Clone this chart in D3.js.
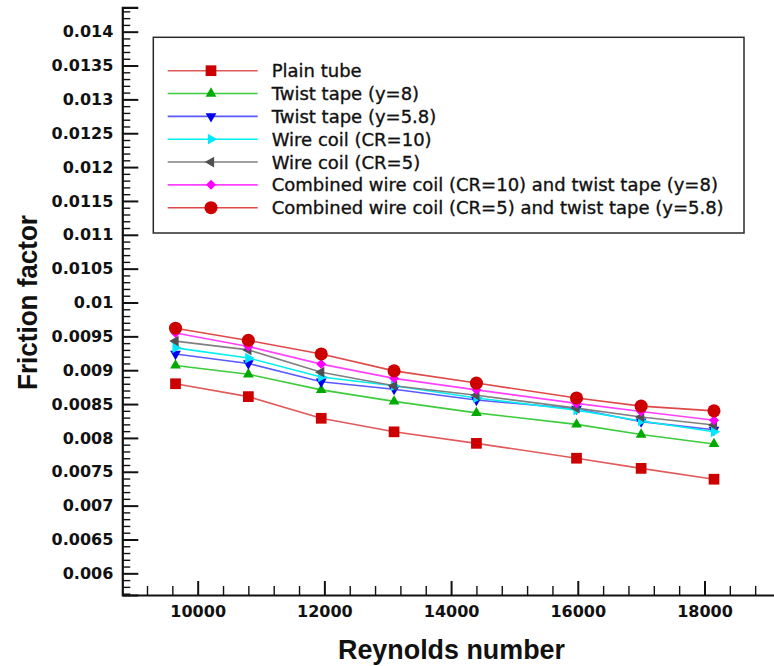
<!DOCTYPE html>
<html>
<head>
<meta charset="utf-8">
<script src="https://cdn.jsdelivr.net/npm/d3@7"></script>
<style>
  body { margin: 0; background: #fff; }
  svg { display: block; }
  .tick text { font-family: "DejaVu Sans"; font-weight: bold; font-size: 16px; fill: #111; }
  .legend text { font-family: "DejaVu Sans"; font-size: 18px; fill: #111; stroke: #111; stroke-width: 0.35px; }
  .title { font-family: "Liberation Sans"; font-weight: bold; fill: #111; }
</style>
</head>
<body>
<div class="chart"></div>
<script>
// Reynolds numbers of the measured points
const reynolds = [9650, 10800, 11950, 13100, 14400, 15980, 17000, 18150];

// friction factor for each configuration
const plainTube  = [0.00880, 0.00861, 0.00829, 0.00809, 0.00792, 0.00770, 0.00755, 0.00739];
const twist8     = [0.00907, 0.00894, 0.00871, 0.00854, 0.00837, 0.00820, 0.00805, 0.00791];
const twist58    = [0.00924, 0.00910, 0.00883, 0.00872, 0.00856, 0.00843, 0.00824, 0.00812];
const wire10     = [0.00933, 0.00918, 0.00890, 0.00877, 0.00859, 0.00841, 0.00825, 0.00809];
const wire5      = [0.00943, 0.00930, 0.00897, 0.00877, 0.00863, 0.00844, 0.00831, 0.00819];
const combined10 = [0.00955, 0.00935, 0.00909, 0.00888, 0.00871, 0.00851, 0.00839, 0.00826];
const combined5  = [0.00962, 0.00944, 0.00924, 0.00899, 0.00881, 0.00859, 0.00847, 0.00840];

const seriesNames = [
  "Plain tube",
  "Twist tape (y=8)",
  "Twist tape (y=5.8)",
  "Wire coil (CR=10)",
  "Wire coil (CR=5)",
  "Combined wire coil (CR=10) and twist tape (y=8)",
  "Combined wire coil (CR=5) and twist tape (y=5.8)"
];
const seriesValues = [plainTube, twist8, twist58, wire10, wire5, combined10, combined5];

// axis ticks
const xMajorTicks = [10000, 12000, 14000, 16000, 18000];
const yMajorTicks = ["0.006", "0.0065", "0.007", "0.0075", "0.008", "0.0085", "0.009", "0.0095",
  "0.01", "0.0105", "0.011", "0.0115", "0.012", "0.0125", "0.013", "0.0135", "0.014"];

const width = 774, height = 666;

const lineColors = ["#e05a5a", "#3ccc3c", "#5a5aff", "#00f0f0", "#808080", "#ff40ff", "#e04848"];
const markColors = ["#cc0000", "#00aa00", "#0000ee", "#00e8ff", "#505050", "#ff00ff", "#cc0000"];
const symbols = [
  { type: d3.symbolSquare, size: 115, rot: 0 },
  { type: d3.symbolTriangle, size: 50, rot: 0 },
  { type: d3.symbolTriangle, size: 50, rot: 180 },
  { type: d3.symbolTriangle, size: 50, rot: 90 },
  { type: d3.symbolTriangle, size: 50, rot: -90 },
  { type: d3.symbolSquare, size: 50, rot: 45 },
  { type: d3.symbolCircle, size: 135, rot: 0 }
];

const x = d3.scaleLinear().domain([8810, 19200]).range([122.3, 780.5]);
const y = d3.scaleLinear().domain([0.00568, 0.01436]).range([595, 7.3]);

const svg = d3.select(".chart").append("svg")
  .attr("width", width)
  .attr("height", height);

svg.append("rect").attr("width", width).attr("height", height).attr("fill", "#fff");

// minor ticks first, then the major axes on top
const xMinor = d3.range(9200, 19200, 400).filter(d => d % 2000 !== 0);
svg.append("g")
  .attr("transform", "translate(0,595)")
  .call(d3.axisBottom(x).tickValues(xMinor).tickSize(-9).tickSizeOuter(0).tickFormat(""))
  .call(g => g.select(".domain").remove())
  .call(g => g.selectAll("line").attr("stroke", "#111").attr("stroke-width", 1.4));

const yMinor = d3.range(57, 144).filter(d => d % 5 !== 0).map(d => d / 10000);
svg.append("g")
  .attr("transform", "translate(122.3,0)")
  .call(d3.axisLeft(y).tickValues(yMinor).tickSize(-8).tickSizeOuter(0).tickFormat(""))
  .call(g => g.select(".domain").remove())
  .call(g => g.selectAll("line").attr("stroke", "#111").attr("stroke-width", 1.4));

svg.append("g")
  .attr("transform", "translate(0,595)")
  .call(d3.axisBottom(x).tickValues(xMajorTicks).tickSize(-14).tickSizeOuter(0)
    .tickPadding(11).tickFormat(d => d))
  .call(g => g.select(".domain").attr("stroke", "#111").attr("stroke-width", 2.2))
  .call(g => g.selectAll(".tick line").attr("stroke", "#111").attr("stroke-width", 2));

svg.append("g")
  .attr("transform", "translate(122.3,0)")
  .call(d3.axisLeft(y).tickValues(yMajorTicks.map(Number)).tickSize(-16).tickSizeOuter(-16)
    .tickPadding(9).tickFormat((d, i) => yMajorTicks[i]))
  .call(g => g.select(".domain").attr("stroke", "#111").attr("stroke-width", 2.2))
  .call(g => g.selectAll(".tick line").attr("stroke", "#111").attr("stroke-width", 2));

// series
const line = d3.line()
  .x(d => x(d[0]))
  .y(d => y(d[1]));

seriesValues.forEach((vals, i) => {
  const pts = reynolds.map((r, j) => [r, vals[j]]);
  svg.append("path")
    .datum(pts)
    .attr("fill", "none")
    .attr("stroke", lineColors[i])
    .attr("stroke-width", 1.6)
    .attr("d", line);
});

seriesValues.forEach((vals, i) => {
  const pts = reynolds.map((r, j) => [r, vals[j]]);
  const s = symbols[i];
  svg.append("g").selectAll("path")
    .data(pts)
    .enter().append("path")
    .attr("d", d3.symbol().type(s.type).size(s.size))
    .attr("transform", d => "translate(" + x(d[0]) + "," + y(d[1]) + ") rotate(" + s.rot + ")")
    .attr("fill", markColors[i]);
});

// legend
const legend = svg.append("g").attr("class", "legend");
legend.append("rect")
  .attr("x", 153.3).attr("y", 37.3)
  .attr("width", 590.7).attr("height", 195.7)
  .attr("fill", "#fff")
  .attr("stroke", "#2a2a2a")
  .attr("stroke-width", 1.5);

const rowY = i => 70.7 + i * 22.83;
const rows = legend.selectAll(".row")
  .data(seriesNames)
  .enter().append("g")
  .attr("class", "row")
  .attr("transform", (d, i) => "translate(0," + rowY(i) + ")");

rows.append("line")
  .attr("x1", 167.7).attr("x2", 257.7)
  .attr("stroke", (d, i) => lineColors[i])
  .attr("stroke-width", 1.6);

rows.append("path")
  .attr("d", (d, i) => d3.symbol().type(symbols[i].type).size(symbols[i].size)())
  .attr("transform", (d, i) => "translate(211,0) rotate(" + symbols[i].rot + ")")
  .attr("fill", (d, i) => markColors[i]);

rows.append("text")
  .attr("x", 271.7)
  .attr("dy", "0.36em")
  .text(d => d);

// axis titles
svg.append("text")
  .attr("class", "title")
  .attr("x", 451.5).attr("y", 659)
  .attr("text-anchor", "middle")
  .style("font-size", "28px")
  .attr("textLength", 227).attr("lengthAdjust", "spacingAndGlyphs")
  .text("Reynolds number");

svg.append("text")
  .attr("class", "title")
  .attr("transform", "translate(37,302.5) rotate(-90)")
  .attr("text-anchor", "middle")
  .style("font-size", "28px")
  .attr("textLength", 175).attr("lengthAdjust", "spacingAndGlyphs")
  .text("Friction factor");
</script>
</body>
</html>
